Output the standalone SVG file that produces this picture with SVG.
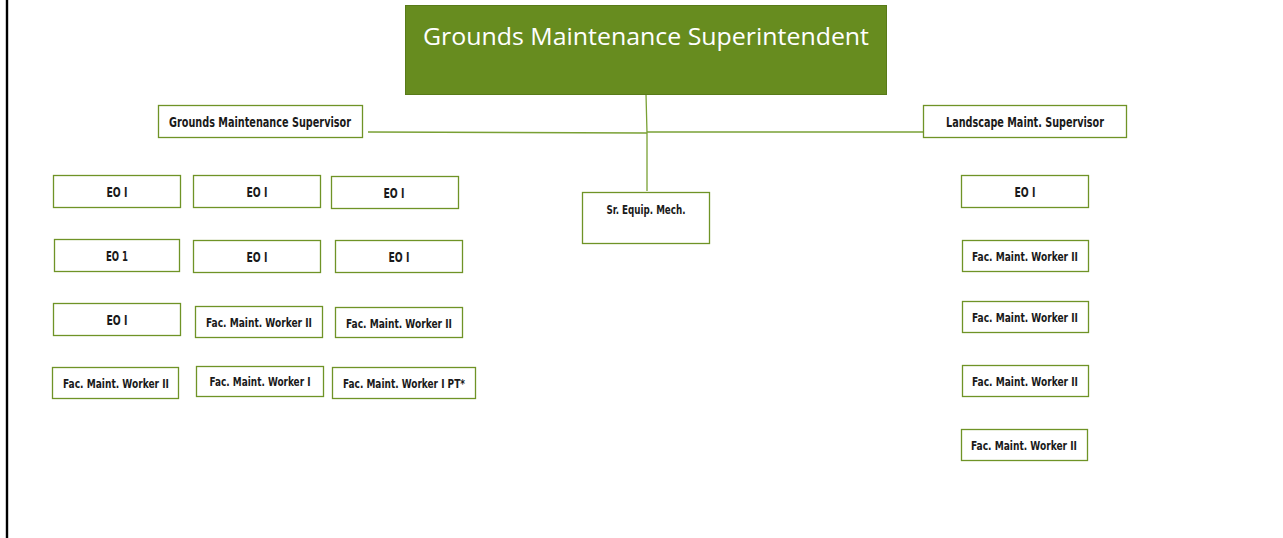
<svg xmlns="http://www.w3.org/2000/svg" width="1283" height="538" viewBox="0 0 1283 538">
  <style>
    .box { fill: #ffffff; stroke: #6f9326; stroke-width: 1.3; }
    .lbl { font-family: "DejaVu Sans Condensed", "DejaVu Sans", "Liberation Sans", sans-serif; font-stretch: condensed; font-weight: bold; font-size: 14px; fill: #1a1a1a; text-anchor: middle; }
    .sm { font-size: 13px; }
    .wire { fill: none; stroke: #79a034; stroke-width: 1.3; }
  </style>
  <rect x="0" y="0" width="1283" height="538" fill="#ffffff"/>
  <!-- page edge -->
  <line x1="7" y1="0" x2="7" y2="538" stroke="#000000" stroke-width="2.4"/>

  <g id="connectors">
    <polyline class="wire" points="646,94 647,133 647,191"/>
    <line class="wire" x1="368" y1="132" x2="647" y2="133"/>
    <line class="wire" x1="647" y1="132" x2="923" y2="132"/>
  </g>

  <g id="superintendent">
    <rect x="405.5" y="5.5" width="481" height="89" fill="#678c1f" stroke="#587a18" stroke-width="1"/>
    <text x="646" y="45" font-family="'Open Sans', 'DejaVu Sans', sans-serif" font-size="24" fill="#ffffff" text-anchor="middle" textLength="446" lengthAdjust="spacingAndGlyphs">Grounds Maintenance Superintendent</text>
  </g>

  <g id="grounds-supervisor">
    <rect class="box" x="158.5" y="105.5" width="204" height="32"/>
    <text class="lbl" x="260" y="127" textLength="182" lengthAdjust="spacingAndGlyphs">Grounds Maintenance Supervisor</text>
  </g>

  <g id="landscape-supervisor">
    <rect class="box" x="923.5" y="105.5" width="203" height="32"/>
    <text class="lbl" x="1025" y="127" textLength="158" lengthAdjust="spacingAndGlyphs">Landscape Maint. Supervisor</text>
  </g>

  <g id="sr-equip-mech">
    <rect class="box" x="582.5" y="192.5" width="127" height="51"/>
    <text class="lbl sm" x="646" y="214" textLength="79" lengthAdjust="spacingAndGlyphs">Sr. Equip. Mech.</text>
  </g>

  <!-- grounds crew, row 1 -->
  <g id="eo-1a">
    <rect class="box" x="53.5" y="175.5" width="127" height="32"/>
    <text class="lbl" x="117" y="197" textLength="21" lengthAdjust="spacingAndGlyphs">EO I</text>
  </g>
  <g id="eo-1b">
    <rect class="box" x="193.5" y="175.5" width="127" height="32"/>
    <text class="lbl" x="257" y="197" textLength="21" lengthAdjust="spacingAndGlyphs">EO I</text>
  </g>
  <g id="eo-1c">
    <rect class="box" x="331.5" y="176.5" width="127" height="32"/>
    <text class="lbl" x="394" y="198" textLength="21" lengthAdjust="spacingAndGlyphs">EO I</text>
  </g>

  <!-- row 2 -->
  <g id="eo-2a">
    <rect class="box" x="54.5" y="239.5" width="125" height="32"/>
    <text class="lbl" x="117" y="261" textLength="22" lengthAdjust="spacingAndGlyphs">EO 1</text>
  </g>
  <g id="eo-2b">
    <rect class="box" x="193.5" y="240.5" width="127" height="32"/>
    <text class="lbl" x="257" y="262" textLength="21" lengthAdjust="spacingAndGlyphs">EO I</text>
  </g>
  <g id="eo-2c">
    <rect class="box" x="335.5" y="240.5" width="127" height="32"/>
    <text class="lbl" x="399" y="262" textLength="21" lengthAdjust="spacingAndGlyphs">EO I</text>
  </g>

  <!-- row 3 -->
  <g id="eo-3a">
    <rect class="box" x="53.5" y="303.5" width="127" height="32"/>
    <text class="lbl" x="117" y="325" textLength="21" lengthAdjust="spacingAndGlyphs">EO I</text>
  </g>
  <g id="fmw2-3b">
    <rect class="box" x="195.5" y="306.5" width="127" height="31"/>
    <text class="lbl sm" x="259" y="327" textLength="106" lengthAdjust="spacingAndGlyphs">Fac. Maint. Worker II</text>
  </g>
  <g id="fmw2-3c">
    <rect class="box" x="335.5" y="307.5" width="127" height="30"/>
    <text class="lbl sm" x="399" y="328" textLength="106" lengthAdjust="spacingAndGlyphs">Fac. Maint. Worker II</text>
  </g>

  <!-- row 4 -->
  <g id="fmw2-4a">
    <rect class="box" x="52.5" y="367.5" width="126" height="31"/>
    <text class="lbl sm" x="116" y="388" textLength="106" lengthAdjust="spacingAndGlyphs">Fac. Maint. Worker II</text>
  </g>
  <g id="fmw1-4b">
    <rect class="box" x="196.5" y="366.5" width="127" height="30"/>
    <text class="lbl sm" x="260" y="386" textLength="101" lengthAdjust="spacingAndGlyphs">Fac. Maint. Worker I</text>
  </g>
  <g id="fmw1pt-4c">
    <rect class="box" x="332.5" y="367.5" width="143" height="31"/>
    <text class="lbl sm" x="404" y="388" textLength="122" lengthAdjust="spacingAndGlyphs">Fac. Maint. Worker I PT*</text>
  </g>

  <!-- landscape crew -->
  <g id="eo-r1">
    <rect class="box" x="961.5" y="175.5" width="127" height="32"/>
    <text class="lbl" x="1025" y="197" textLength="21" lengthAdjust="spacingAndGlyphs">EO I</text>
  </g>
  <g id="fmw2-r2">
    <rect class="box" x="962.5" y="240.5" width="126" height="31"/>
    <text class="lbl sm" x="1025" y="261" textLength="106" lengthAdjust="spacingAndGlyphs">Fac. Maint. Worker II</text>
  </g>
  <g id="fmw2-r3">
    <rect class="box" x="962.5" y="301.5" width="126" height="31"/>
    <text class="lbl sm" x="1025" y="322" textLength="106" lengthAdjust="spacingAndGlyphs">Fac. Maint. Worker II</text>
  </g>
  <g id="fmw2-r4">
    <rect class="box" x="962.5" y="365.5" width="126" height="31"/>
    <text class="lbl sm" x="1025" y="386" textLength="106" lengthAdjust="spacingAndGlyphs">Fac. Maint. Worker II</text>
  </g>
  <g id="fmw2-r5">
    <rect class="box" x="961.5" y="429.5" width="126" height="31"/>
    <text class="lbl sm" x="1024" y="450" textLength="106" lengthAdjust="spacingAndGlyphs">Fac. Maint. Worker II</text>
  </g>
</svg>
